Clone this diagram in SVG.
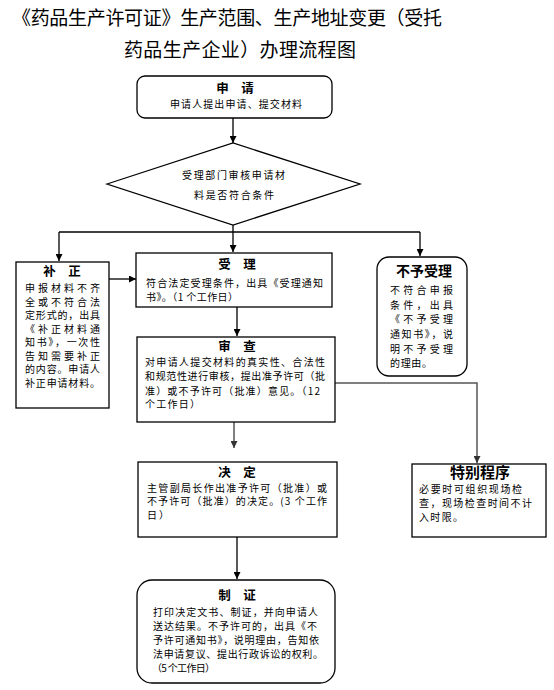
<svg xmlns="http://www.w3.org/2000/svg" width="554" height="690" viewBox="0 0 554 690">
<style>
text{font-family:"Noto Sans CJK SC","Liberation Sans",sans-serif;fill:#000}
.ttl{font-size:19px}
.hd{font-size:12.5px;font-weight:bold;text-anchor:middle}
.bd{font-size:10px}
.box{fill:#fff;stroke:#000;stroke-width:1.3}
.ln{fill:none;stroke:#000;stroke-width:1.3}
.lg{fill:none;stroke:#555;stroke-width:1.5}
</style>
<defs>
<marker id="ah" viewBox="0 0 8 8" refX="8" refY="4" markerWidth="7" markerHeight="7" markerUnits="userSpaceOnUse" orient="auto"><path d="M0,0 L8,4 L0,8 z" fill="#000"/></marker>
<marker id="ahg" viewBox="0 0 8 8" refX="8" refY="4" markerWidth="7" markerHeight="7" markerUnits="userSpaceOnUse" orient="auto"><path d="M0,0 L8,4 L0,8 z" fill="#333"/></marker>
</defs>
<rect width="554" height="690" fill="#fff"/>
<g id="title">
<text class="ttl" x="12" y="25" textLength="430" lengthAdjust="spacing">《药品生产许可证》生产范围、生产地址变更（受托</text>
<text class="ttl" x="124" y="57" textLength="232" lengthAdjust="spacing">药品生产企业）办理流程图</text>
</g>
<g id="connectors">
<line class="ln" x1="233" y1="118" x2="233" y2="143" marker-end="url(#ah)"/>
<line class="ln" x1="233" y1="225" x2="233" y2="232"/>
<line class="ln" x1="59" y1="232" x2="420" y2="232"/>
<line class="ln" x1="59" y1="232" x2="59" y2="261" marker-end="url(#ah)"/>
<line class="ln" x1="233" y1="232" x2="233" y2="252" marker-end="url(#ah)"/>
<line class="ln" x1="420" y1="232" x2="420" y2="256" marker-end="url(#ah)"/>
<line class="ln" x1="109" y1="279" x2="136" y2="279" marker-end="url(#ah)"/>
<line class="ln" x1="237" y1="307" x2="237" y2="336" marker-end="url(#ah)"/>
<line class="lg" x1="234" y1="422" x2="234" y2="448" marker-end="url(#ahg)"/>
<polyline class="lg" points="335,383 477,383 477,463" marker-end="url(#ahg)"/>
<line class="ln" x1="237" y1="537" x2="237" y2="579" marker-end="url(#ah)"/>
</g>
<g id="n-apply">
<rect class="box" x="137" y="76" width="195" height="42" rx="8"/>
<text class="hd" x="235" y="92.5">申　请</text>
<text class="bd" x="170" y="107.5" textLength="132" lengthAdjust="spacing">申请人提出申请、提交材料</text>
</g>
<g id="n-check">
<polygon class="box" points="107,184 233,143 360,184 233,225"/>
<text class="bd" x="182" y="179" textLength="103" lengthAdjust="spacing">受理部门审核申请材</text>
<text class="bd" x="194" y="199" textLength="80" lengthAdjust="spacing">料是否符合条件</text>
</g>
<g id="n-supplement">
<rect class="box" x="16" y="262" width="93" height="146"/>
<text class="hd" x="62" y="275.5">补　正</text>
<text class="bd" x="25" y="292" textLength="75" lengthAdjust="spacing">申报材料不齐</text>
<text class="bd" x="25" y="305.5" textLength="75" lengthAdjust="spacing">全或不符合法</text>
<text class="bd" x="25" y="319" textLength="75" lengthAdjust="spacing">定形式的，出具</text>
<text class="bd" x="25" y="332.5" textLength="75" lengthAdjust="spacing">《补正材料通</text>
<text class="bd" x="25" y="346" textLength="75" lengthAdjust="spacing">知书》，一次性</text>
<text class="bd" x="25" y="359.5" textLength="75" lengthAdjust="spacing">告知需要补正</text>
<text class="bd" x="25" y="373" textLength="75" lengthAdjust="spacing">的内容。申请人</text>
<text class="bd" x="25" y="386.5" textLength="75" lengthAdjust="spacing">补正申请材料。</text>
</g>
<g id="n-accept">
<rect class="box" x="136" y="253" width="196" height="54"/>
<text class="hd" x="237" y="268.5">受　理</text>
<text class="bd" x="146" y="287" textLength="177" lengthAdjust="spacing">符合法定受理条件，出具《受理通知</text>
<text class="bd" x="146" y="300.5" textLength="92" lengthAdjust="spacing">书》。（1 个工作日）</text>
</g>
<g id="n-reject">
<rect class="box" x="377" y="257" width="90" height="119" rx="12"/>
<text class="hd" x="424" y="276" style="font-size:14px">不予受理</text>
<text class="bd" x="390" y="294" textLength="63" lengthAdjust="spacing">不符合申报</text>
<text class="bd" x="390" y="308.5" textLength="63" lengthAdjust="spacing">条件，出具</text>
<text class="bd" x="390" y="323" textLength="63" lengthAdjust="spacing">《不予受理</text>
<text class="bd" x="390" y="338" textLength="63" lengthAdjust="spacing">通知书》，说</text>
<text class="bd" x="390" y="352.5" textLength="63" lengthAdjust="spacing">明不予受理</text>
<text class="bd" x="390" y="367" textLength="42" lengthAdjust="spacing">的理由。</text>
</g>
<g id="n-review">
<rect class="box" x="137" y="337" width="198" height="85"/>
<text class="hd" x="237" y="350.5">审　查</text>
<text class="bd" x="145" y="365.5" textLength="180" lengthAdjust="spacing">对申请人提交材料的真实性、合法性</text>
<text class="bd" x="145" y="380" textLength="180" lengthAdjust="spacing">和规范性进行审核，提出准予许可（批</text>
<text class="bd" x="145" y="394.5" textLength="175" lengthAdjust="spacing">准）或不予许可（批准）意见。（12</text>
<text class="bd" x="145" y="408" textLength="55" lengthAdjust="spacing">个工作日）</text>
</g>
<g id="n-decide">
<rect class="box" x="138" y="462" width="199" height="75"/>
<text class="hd" x="237" y="476.5">决　定</text>
<text class="bd" x="147" y="491.5" textLength="180" lengthAdjust="spacing">主管副局长作出准予许可（批准）或</text>
<text class="bd" x="147" y="505" textLength="180" lengthAdjust="spacing">不予许可（批准）的决定。(3 个工作</text>
<text class="bd" x="147" y="518.5" textLength="22" lengthAdjust="spacing">日）</text>
</g>
<g id="n-special">
<rect class="box" x="412" y="464" width="134" height="73"/>
<text class="hd" x="480" y="478" style="font-size:15px">特别程序</text>
<text class="bd" x="419" y="493" textLength="103" lengthAdjust="spacing">必要时可组织现场检</text>
<text class="bd" x="419" y="507" textLength="113" lengthAdjust="spacing">查，现场检查时间不计</text>
<text class="bd" x="419" y="521" textLength="44" lengthAdjust="spacing">入时限。</text>
</g>
<g id="n-issue">
<rect class="box" x="137" y="580" width="198" height="103" rx="15"/>
<text class="hd" x="237" y="599.5">制　证</text>
<text class="bd" x="153" y="616" textLength="165" lengthAdjust="spacing">打印决定文书、制证，并向申请人</text>
<text class="bd" x="153" y="629.5" textLength="164" lengthAdjust="spacing">送达结果。不予许可的，出具《不</text>
<text class="bd" x="153" y="643.5" textLength="166" lengthAdjust="spacing">予许可通知书》，说明理由，告知依</text>
<text class="bd" x="153" y="657.5" textLength="170" lengthAdjust="spacing">法申请复议、提出行政诉讼的权利。</text>
<text class="bd" x="152" y="672" textLength="63" lengthAdjust="spacing">（5 个工作日）</text>
</g>
</svg>
